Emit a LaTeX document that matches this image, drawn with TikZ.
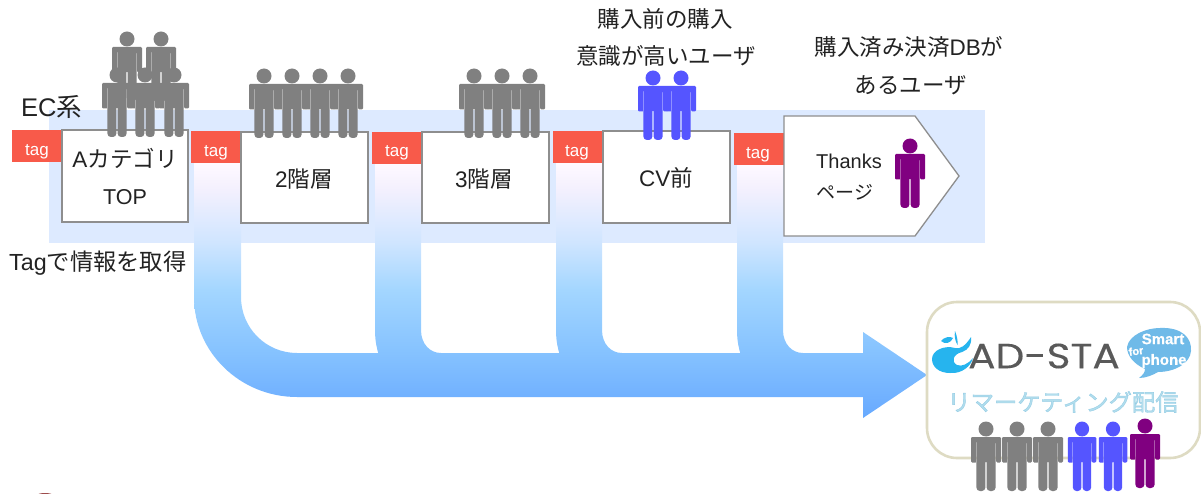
\documentclass[tikz,border=0pt]{standalone}
\usepackage{fontspec}
\setmainfont{Liberation Sans}
\newfontfamily\cjk{Noto Sans CJK JP}
\newfontfamily\cjkout{Noto Sans CJK JP}[FakeBold=1.6]
\newfontfamily\sansout{Liberation Sans}[UprightFont=* Bold,FakeBold=0.4]
\newfontfamily\logofont{Poppins}[FakeBold=0.2]
\newcommand\outlined[3]{\special{pdf:bcolor [#1] [#2]}#3\special{pdf:ecolor}}
\definecolor{bandc}{HTML}{DDEAFF}
\definecolor{tagc}{HTML}{F85A4A}
\definecolor{linec}{HTML}{8E8E8E}
\definecolor{txtc}{HTML}{222222}
\definecolor{greyp}{HTML}{808080}
\definecolor{bluep}{HTML}{5555FF}
\definecolor{purp}{HTML}{800080}
\definecolor{panelc}{HTML}{DEDBC3}
\definecolor{logoc}{HTML}{26B4EE}
\definecolor{bubc}{HTML}{6FBAE8}
\definecolor{fa}{HTML}{66A9FF}
\definecolor{fb}{HTML}{71B1FF}
\definecolor{fc}{HTML}{85C2FF}
\definecolor{fd}{HTML}{A3D6FF}
\definecolor{fe}{HTML}{CFE5FF}
\definecolor{ff}{HTML}{F3F0FE}
\definecolor{fg}{HTML}{FFF9FF}
\pgfdeclareverticalshading{flow}{100bp}{%
 color(0bp)=(fa);
 color(25bp)=(fa);
 color(29.3bp)=(fb);
 color(37.9bp)=(fc);
 color(50.2bp)=(fd);
 color(59.4bp)=(fe);
 color(69.7bp)=(ff);
 color(75bp)=(fg);
 color(100bp)=(fg)}
\tikzset{
 x=1pt,y=-1pt,
 pagebox/.style={draw=linec,line width=1.3pt,fill=white},
 tagbox/.style={fill=tagc,draw=none,minimum width=50pt,minimum height=32pt,inner sep=0pt},
 tagtext/.style={text=white,font=\fontsize{17}{17}\selectfont,inner sep=0pt},
 label/.style={text=txtc,font=\fontsize{22.5}{22.5}\selectfont,inner sep=0pt,align=center},
 person/.pic={
  \fill[pic actions] (0,0) circle (7.5);
  \fill[pic actions,rounded corners=1.2pt]
   (-15,8) -- (15,8) -- (15,33.5) -- (10.1,33.5) -- (10.1,13) -- (9.6,13) -- (9.6,33)
   [rounded corners=3.5pt] -- (9.6,62) -- (0.6,62) [rounded corners=0.3pt] -- (0.6,33) -- (-0.6,33)
   [rounded corners=3.5pt] -- (-0.6,62) -- (-9.6,62) [rounded corners=0.3pt] -- (-9.6,13) -- (-10.1,13) -- (-10.1,33.5) [rounded corners=1.2pt] -- (-15,33.5) -- cycle;
 }
}
\begin{document}
\begin{tikzpicture}
\useasboundingbox (0,0) rectangle (1201,494);
% band
\fill[bandc] (49,110) rectangle (985,243);
% flow strips
\begin{scope}
\clip
 (194,163) -- (194,297) .. controls (194,352) and (240,397) .. (297,397)
 -- (863,397) -- (863,418) -- (927,375) -- (863,332) -- (863,353) -- (297,353)
 .. controls (266,353) and (241,328) .. (241,297) -- (241,163) -- cycle
 (375,163) -- (375,330) .. controls (375,345) and (378,353) .. (385,375) -- (441,375)
 -- (441,353) .. controls (430,353) and (421,344) .. (421,330) -- (421,163) -- cycle
 (556,163) -- (556,330) .. controls (556,345) and (559,353) .. (566,375) -- (622,375)
 -- (622,353) .. controls (611,353) and (602,344) .. (602,330) -- (602,163) -- cycle
 (737,163) -- (737,330) .. controls (737,345) and (740,353) .. (747,375) -- (803,375)
 -- (803,353) .. controls (792,353) and (783,344) .. (783,330) -- (783,163) -- cycle;
\shade[shading=flow] (180,163) rectangle (930,419);
\end{scope}
% bottom-left fragment
\fill[red!45!black!70!white] (45,501) ellipse (14 and 8);
% tags
\node[tagbox] (t1) at (37,146) {};
\node[tagbox] (t2) at (216,147) {};
\node[tagbox] (t3) at (397,148) {};
\node[tagbox] (t4) at (578,147) {};
\node[tagbox] (t5) at (759,149) {};
\node[tagtext] (tt1) at (37,152) {tag};
\node[tagtext] (tt2) at (216,153) {tag};
\node[tagtext] (tt3) at (397,153) {tag};
\node[tagtext] (tt4) at (577,153) {tag};
\node[tagtext] (tt5) at (758,155) {tag};
% page boxes
\draw[pagebox] (62,130) rectangle (188,222);
\draw[pagebox] (241,132) rectangle (368,223);
\draw[pagebox] (422,132) rectangle (549,223);
\draw[pagebox] (603,131) rectangle (730,223);
\draw[pagebox] (784,116) -- (915,116) -- (959,176) -- (915,236) -- (784,236) -- cycle;
% people
\pic[fill=greyp] at (127,39) {person};
\pic[fill=greyp] at (161,39) {person};
\pic[fill=greyp] at (117,75) {person};
\pic[fill=greyp] at (145,75) {person};
\pic[fill=greyp] at (174,75) {person};
\foreach \px in {264,292,320,348}{\pic[fill=greyp] at (\px,76) {person};}
\foreach \px in {474,502,530}{\pic[fill=greyp] at (\px,76) {person};}
\foreach \px in {653,681}{\pic[fill=bluep] at (\px,78) {person};}
\pic[fill=purp] at (910,146) {person};
% texts
\node[label,anchor=west,font=\fontsize{25.5}{25.5}\selectfont] (ec) at (21,107) {EC{\cjk 系}};
\node[label] (a1) at (125,158) {A{\cjk カテゴリ}};
\node[label,font=\fontsize{21.5}{21.5}\selectfont] (a2) at (125,197) {TOP};
\node[label] (l2) at (304,179) {2{\cjk 階層}};
\node[label] (l3) at (484,179) {3{\cjk 階層}};
\node[label] (l4) at (666,178) {CV{\cjk 前}};
\node[label,font=\fontsize{20}{20}\selectfont] (th) at (849,161) {Thanks};
\node[label,font=\fontsize{19}{19}\selectfont] (pg) at (845,192) {\cjk ページ};
\node[label,anchor=west,font=\fontsize{23.3}{23.3}\selectfont] (tg) at (9,263) {Tag{\cjk で情報を取得}};
\node[label] (u1) at (665,19) {\cjk 購入前の購入};
\node[label] (u2) at (666,56) {\cjk 意識が高いユーザ};
\node[label] (u3) at (909,47) {{\cjk 購入済み決済}DB{\cjk が}};
\node[label] (u4) at (911,85) {\cjk あるユーザ};
% panel
\draw[panelc,line width=2.6pt,fill=white,rounded corners=30pt] (927,302) rectangle (1200,458);
% logo
\fill[logoc] (955,348) .. controls (960,350) and (966,345) .. (971,337)
 .. controls (972,345) and (968,350) .. (962,352)
 .. controls (953,354) and (951,362) .. (957,365)
 .. controls (962,367) and (968,364) .. (973,358)
 .. controls (971,366) and (962,374) .. (950,373)
 .. controls (939,373) and (932,367) .. (932,359)
 .. controls (932,350) and (945,345) .. (955,348) -- cycle;
\fill[logoc] (941,341) .. controls (944,337) and (950,336) .. (953,338)
 .. controls (951,343) and (945,345) .. (941,341) -- cycle;
\fill[logoc] (955,331) .. controls (957,336) and (958,341) .. (957.5,345)
 .. controls (955.5,342) and (954,336) .. (955,331) -- cycle;
\node[inner sep=0pt,text=black!65,font=\logofont\fontsize{35}{35}\selectfont,xscale=1.16] (logo) at (1044,356) {AD-STA};
\fill[bubc] (1160,328) .. controls (1182,327) and (1192,338) .. (1191,351)
 .. controls (1190,364) and (1174,372) .. (1158,372)
 .. controls (1153,375) and (1146,378) .. (1139,378)
 .. controls (1143,375) and (1145,372) .. (1145,369)
 .. controls (1134,364) and (1127,356) .. (1127,347)
 .. controls (1129,335) and (1146,328) .. (1160,328) -- cycle;
\node[inner sep=0pt,font=\sansout\fontsize{15}{15}\selectfont] (sm) at (1163,339) {\outlined{1 1 1}{1 1 1}{Smart}};
\node[inner sep=0pt,font=\sansout\fontsize{11}{11}\selectfont,rotate=8] (fo) at (1136,351) {\outlined{1 1 1}{1 1 1}{for}};
\node[inner sep=0pt,font=\sansout\fontsize{15}{15}\selectfont] (ph) at (1164,361) {\outlined{1 1 1}{1 1 1}{phone}};
\node[inner sep=0pt,font=\cjkout\fontsize{23.3}{23.3}\selectfont] (rm) at (1063,402) {\outlined{0.7 0.87 0.93}{0.58 0.8 0.9}{リマーケティング配信}};
% bottom people
\foreach \px in {986,1017,1048}{\pic[fill=greyp] at (\px,429) {person};}
\foreach \px in {1082,1113}{\pic[fill=bluep,xscale=0.95] at (\px,429) {person};}
\pic[fill=purp] at (1145,426) {person};
\end{tikzpicture}
\end{document}
